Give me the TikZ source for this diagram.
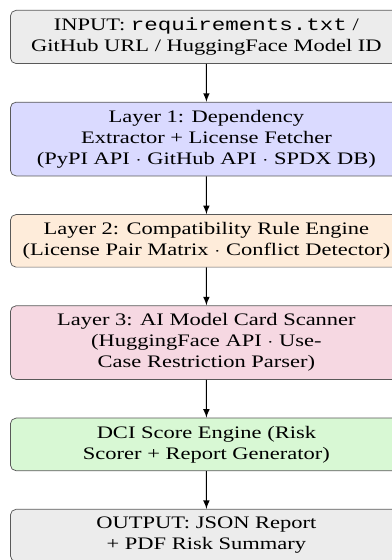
\documentclass[tikz,border=0pt]{standalone}
\usepackage{fontspec}
\setmainfont{Liberation Serif}
\setmonofont{Liberation Mono}
\usepackage{xcolor}
\usepackage{tikz}
\usetikzlibrary{positioning}
\definecolor{ingray}{RGB}{236, 236, 236}
\definecolor{layerblue}{RGB}{218, 218, 255}
\definecolor{layerorange}{RGB}{254, 236, 218}
\definecolor{layerpink}{RGB}{246, 216, 226}
\definecolor{layergreen}{RGB}{216, 248, 212}

\begin{document}
\begin{tikzpicture}[xscale=1.28, node distance=20.5pt,
    layerbox/.style={draw=black!65, rounded corners=3pt, minimum width=165.5pt, align=center, inner xsep=2pt, inner ysep=4.2pt, font=\fontsize{9.5}{11.4}\selectfont, transform shape}]
    \node[layerbox, fill=ingray] (in) {INPUT: \texttt{requirements.txt} /\\ GitHub URL / HuggingFace Model ID};
    \node[layerbox, fill=layerblue, below=of in] (l1) {Layer 1: Dependency\\ Extractor + License Fetcher\\ (PyPI API $\cdot$ GitHub API $\cdot$ SPDX DB)};
    \node[layerbox, fill=layerorange, below=of l1] (l2) {Layer 2: Compatibility Rule Engine\\ (License Pair Matrix $\cdot$ Conflict Detector)};
    \node[layerbox, fill=layerpink, below=of l2] (l3) {Layer 3: AI Model Card Scanner\\ (HuggingFace API $\cdot$ Use-\\ Case Restriction Parser)};
    \node[layerbox, fill=layergreen, below=of l3] (dci) {DCI Score Engine (Risk\\ Scorer + Report Generator)};
    \node[layerbox, fill=ingray, below=of dci] (out) {OUTPUT: JSON Report\\ + PDF Risk Summary};

    \draw[-latex, semithick] (in) -- (l1);
    \draw[-latex, semithick] (l1) -- (l2);
    \draw[-latex, semithick] (l2) -- (l3);
    \draw[-latex, semithick] (l3) -- (dci);
    \draw[-latex, semithick] (dci) -- (out);

    \pgfresetboundingbox
    \path[use as bounding box] ([xshift=-4.2pt, yshift=5.4pt]in.north west) rectangle ++(165.5pt, -302.7pt);
  \end{tikzpicture}
\end{document}
